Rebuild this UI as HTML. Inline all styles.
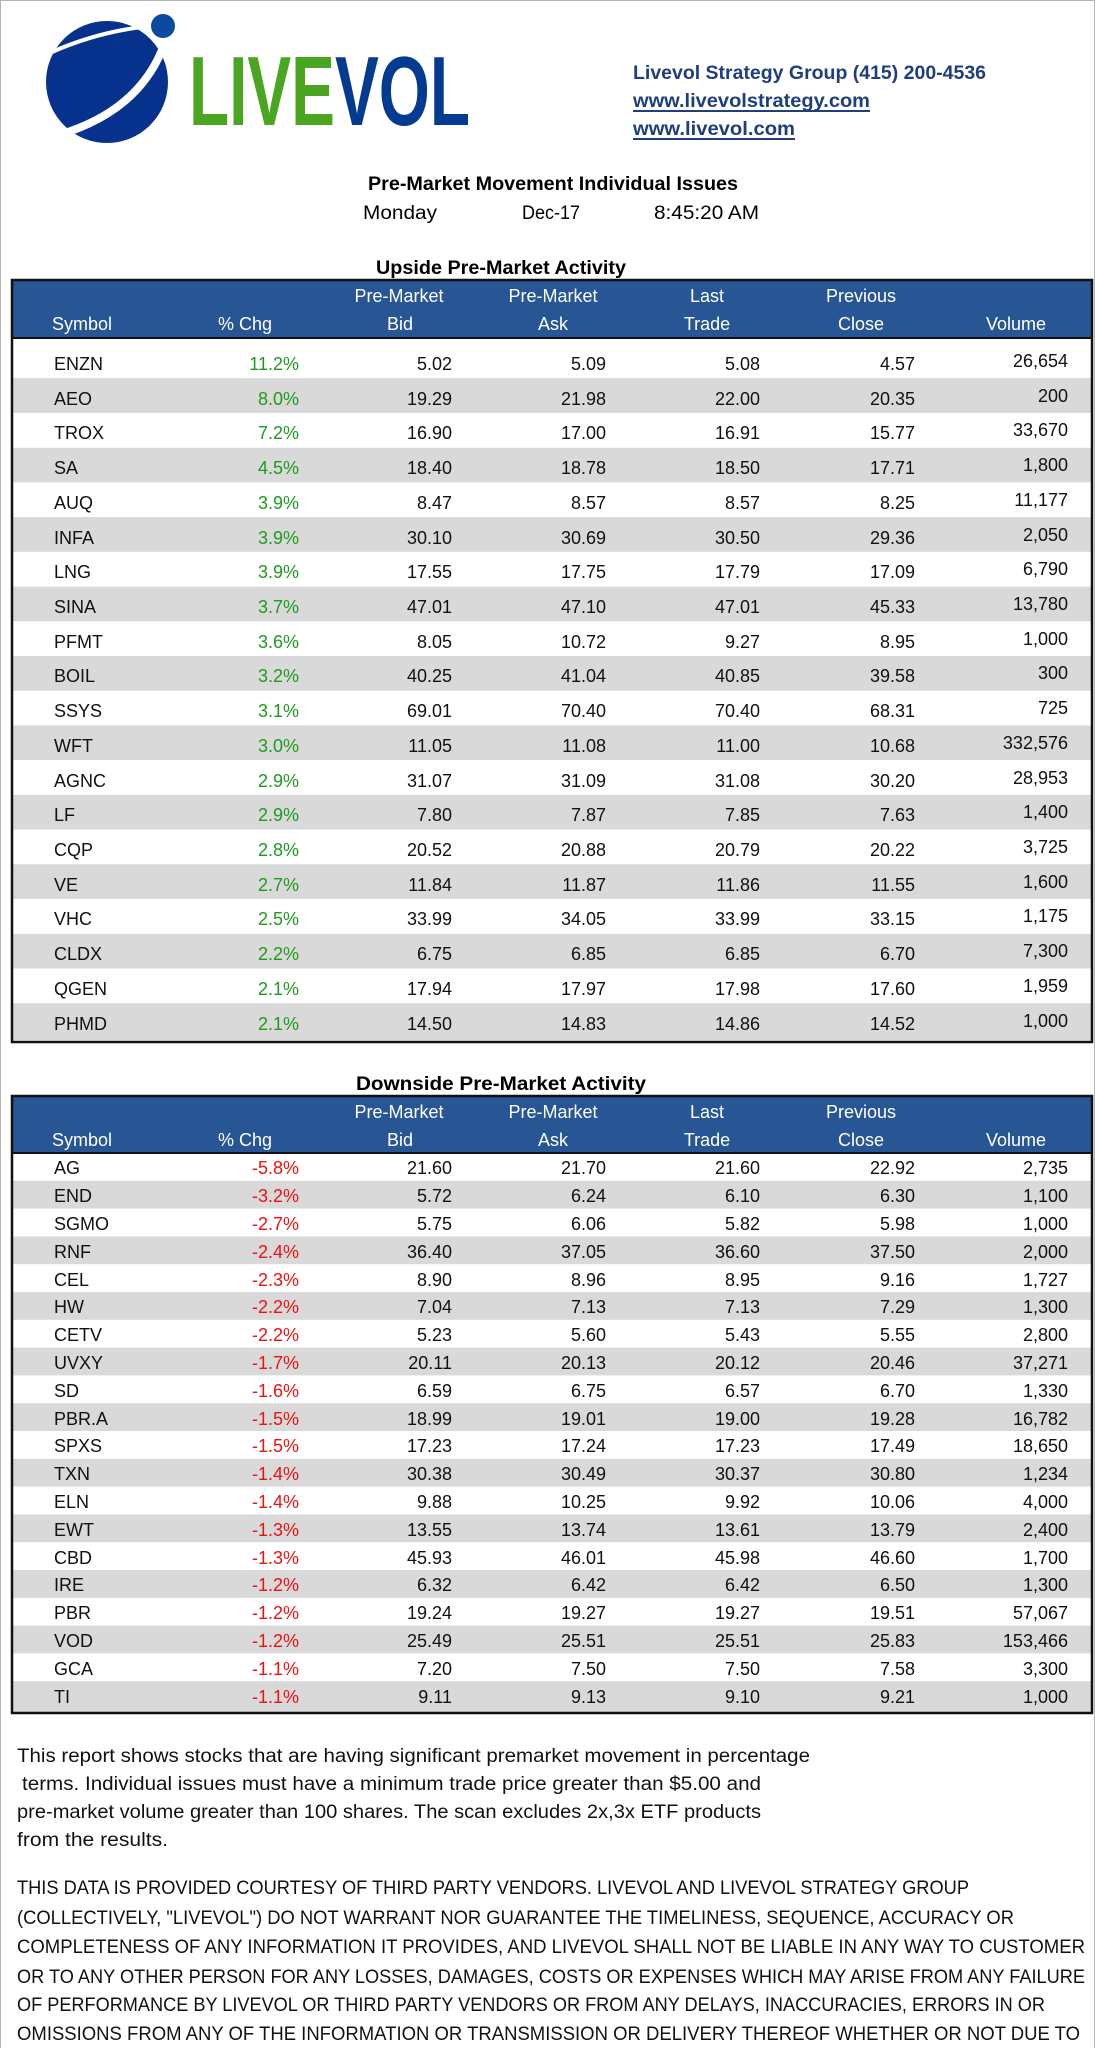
<!DOCTYPE html>
<html><head><meta charset="utf-8"><style>
html,body{margin:0;padding:0;background:#fff}
svg{display:block}
text{font-family:"Liberation Sans",sans-serif}
</style></head><body>
<svg width="1095" height="2048" viewBox="0 0 1095 2048" xmlns="http://www.w3.org/2000/svg">
<rect x="0.5" y="0.5" width="1094" height="2060" fill="#fff" stroke="#b4b4b4"/>
<!-- logo -->
<circle cx="107" cy="82" r="61" fill="#06328e"/>
<path d="M52,52 Q95,33 142,27" stroke="#fff" stroke-width="4" fill="none"/>
<path d="M162,50 Q138,108 68,132" stroke="#fff" stroke-width="8" fill="none"/>
<circle cx="163" cy="26" r="12" fill="#0a4aa0"/>
<text x="189" y="125" font-size="98" font-weight="bold" fill="#4aa520" textLength="146" lengthAdjust="spacingAndGlyphs">LIVE</text>
<text x="335" y="125" font-size="98" font-weight="bold" fill="#033b91" textLength="135" lengthAdjust="spacingAndGlyphs">VOL</text>
<!-- contact -->
<g fill="#1f3e7c" font-weight="bold" font-size="19">
<text x="633" y="79" textLength="353" lengthAdjust="spacingAndGlyphs">Livevol Strategy Group (415) 200-4536</text>
<text x="633" y="107" textLength="237" lengthAdjust="spacingAndGlyphs">www.livevolstrategy.com</text>
<text x="633" y="135" textLength="162" lengthAdjust="spacingAndGlyphs">www.livevol.com</text>
</g>
<rect x="633" y="110" width="237" height="2" fill="#1f3e7c"/>
<rect x="633" y="138" width="162" height="2" fill="#1f3e7c"/>
<!-- titles -->
<text x="368" y="190" font-size="19" font-weight="bold" textLength="370" lengthAdjust="spacingAndGlyphs">Pre-Market Movement Individual Issues</text>
<text x="363" y="219" font-size="19" textLength="74" lengthAdjust="spacingAndGlyphs">Monday</text>
<text x="522" y="219" font-size="19" textLength="58" lengthAdjust="spacingAndGlyphs">Dec-17</text>
<text x="654" y="219" font-size="19" textLength="105" lengthAdjust="spacingAndGlyphs">8:45:20 AM</text>
<text x="376" y="274" font-size="19" font-weight="bold" textLength="250" lengthAdjust="spacingAndGlyphs">Upside Pre-Market Activity</text>
<text x="356" y="1090" font-size="19" font-weight="bold" textLength="290" lengthAdjust="spacingAndGlyphs">Downside Pre-Market Activity</text>

<!-- UPSIDE TABLE -->
<rect x="13" y="281" width="1078" height="56" fill="#285694"/>
<g fill="#d9d9d9">
<rect x="13" y="378.2" width="1078" height="34.7"/>
<rect x="13" y="447.7" width="1078" height="34.7"/>
<rect x="13" y="517.1" width="1078" height="34.7"/>
<rect x="13" y="586.6" width="1078" height="34.7"/>
<rect x="13" y="656.0" width="1078" height="34.7"/>
<rect x="13" y="725.4" width="1078" height="34.7"/>
<rect x="13" y="794.9" width="1078" height="34.7"/>
<rect x="13" y="864.3" width="1078" height="34.7"/>
<rect x="13" y="933.8" width="1078" height="34.7"/>
<rect x="13" y="1003.2" width="1078" height="37"/>
</g>
<rect x="12" y="280" width="1080" height="762" fill="none" stroke="#111" stroke-width="2.5"/>
<line x1="12" y1="338" x2="1092" y2="338" stroke="#111" stroke-width="2"/>
<g fill="#fff" font-size="18">
<text x="399" y="302" text-anchor="middle">Pre-Market</text>
<text x="553" y="302" text-anchor="middle">Pre-Market</text>
<text x="707" y="302" text-anchor="middle">Last</text>
<text x="861" y="302" text-anchor="middle">Previous</text>
<text x="52" y="330">Symbol</text>
<text x="245" y="330" text-anchor="middle">% Chg</text>
<text x="400" y="330" text-anchor="middle">Bid</text>
<text x="553" y="330" text-anchor="middle">Ask</text>
<text x="707" y="330" text-anchor="middle">Trade</text>
<text x="861" y="330" text-anchor="middle">Close</text>
<text x="1016" y="330" text-anchor="middle">Volume</text>
</g>
<g font-size="18">
<g fill="#111">
<text x="54" y="370">ENZN</text><text x="54" y="405">AEO</text><text x="54" y="439">TROX</text><text x="54" y="474">SA</text><text x="54" y="509">AUQ</text>
<text x="54" y="544">INFA</text><text x="54" y="578">LNG</text><text x="54" y="613">SINA</text><text x="54" y="648">PFMT</text><text x="54" y="682">BOIL</text>
<text x="54" y="717">SSYS</text><text x="54" y="752">WFT</text><text x="54" y="787">AGNC</text><text x="54" y="821">LF</text><text x="54" y="856">CQP</text>
<text x="54" y="891">VE</text><text x="54" y="925">VHC</text><text x="54" y="960">CLDX</text><text x="54" y="995">QGEN</text><text x="54" y="1030">PHMD</text>
</g>
<g fill="#1e9a1e" text-anchor="end">
<text x="299" y="370">11.2%</text><text x="299" y="405">8.0%</text><text x="299" y="439">7.2%</text><text x="299" y="474">4.5%</text><text x="299" y="509">3.9%</text>
<text x="299" y="544">3.9%</text><text x="299" y="578">3.9%</text><text x="299" y="613">3.7%</text><text x="299" y="648">3.6%</text><text x="299" y="682">3.2%</text>
<text x="299" y="717">3.1%</text><text x="299" y="752">3.0%</text><text x="299" y="787">2.9%</text><text x="299" y="821">2.9%</text><text x="299" y="856">2.8%</text>
<text x="299" y="891">2.7%</text><text x="299" y="925">2.5%</text><text x="299" y="960">2.2%</text><text x="299" y="995">2.1%</text><text x="299" y="1030">2.1%</text>
</g>
<g fill="#111" text-anchor="end">
<text x="452" y="370">5.02</text><text x="452" y="405">19.29</text><text x="452" y="439">16.90</text><text x="452" y="474">18.40</text><text x="452" y="509">8.47</text>
<text x="452" y="544">30.10</text><text x="452" y="578">17.55</text><text x="452" y="613">47.01</text><text x="452" y="648">8.05</text><text x="452" y="682">40.25</text>
<text x="452" y="717">69.01</text><text x="452" y="752">11.05</text><text x="452" y="787">31.07</text><text x="452" y="821">7.80</text><text x="452" y="856">20.52</text>
<text x="452" y="891">11.84</text><text x="452" y="925">33.99</text><text x="452" y="960">6.75</text><text x="452" y="995">17.94</text><text x="452" y="1030">14.50</text>

<text x="606" y="370">5.09</text><text x="606" y="405">21.98</text><text x="606" y="439">17.00</text><text x="606" y="474">18.78</text><text x="606" y="509">8.57</text>
<text x="606" y="544">30.69</text><text x="606" y="578">17.75</text><text x="606" y="613">47.10</text><text x="606" y="648">10.72</text><text x="606" y="682">41.04</text>
<text x="606" y="717">70.40</text><text x="606" y="752">11.08</text><text x="606" y="787">31.09</text><text x="606" y="821">7.87</text><text x="606" y="856">20.88</text>
<text x="606" y="891">11.87</text><text x="606" y="925">34.05</text><text x="606" y="960">6.85</text><text x="606" y="995">17.97</text><text x="606" y="1030">14.83</text>

<text x="760" y="370">5.08</text><text x="760" y="405">22.00</text><text x="760" y="439">16.91</text><text x="760" y="474">18.50</text><text x="760" y="509">8.57</text>
<text x="760" y="544">30.50</text><text x="760" y="578">17.79</text><text x="760" y="613">47.01</text><text x="760" y="648">9.27</text><text x="760" y="682">40.85</text>
<text x="760" y="717">70.40</text><text x="760" y="752">11.00</text><text x="760" y="787">31.08</text><text x="760" y="821">7.85</text><text x="760" y="856">20.79</text>
<text x="760" y="891">11.86</text><text x="760" y="925">33.99</text><text x="760" y="960">6.85</text><text x="760" y="995">17.98</text><text x="760" y="1030">14.86</text>

<text x="915" y="370">4.57</text><text x="915" y="405">20.35</text><text x="915" y="439">15.77</text><text x="915" y="474">17.71</text><text x="915" y="509">8.25</text>
<text x="915" y="544">29.36</text><text x="915" y="578">17.09</text><text x="915" y="613">45.33</text><text x="915" y="648">8.95</text><text x="915" y="682">39.58</text>
<text x="915" y="717">68.31</text><text x="915" y="752">10.68</text><text x="915" y="787">30.20</text><text x="915" y="821">7.63</text><text x="915" y="856">20.22</text>
<text x="915" y="891">11.55</text><text x="915" y="925">33.15</text><text x="915" y="960">6.70</text><text x="915" y="995">17.60</text><text x="915" y="1030">14.52</text>

<text x="1068" y="367">26,654</text><text x="1068" y="402">200</text><text x="1068" y="436">33,670</text><text x="1068" y="471">1,800</text><text x="1068" y="506">11,177</text>
<text x="1068" y="541">2,050</text><text x="1068" y="575">6,790</text><text x="1068" y="610">13,780</text><text x="1068" y="645">1,000</text><text x="1068" y="679">300</text>
<text x="1068" y="714">725</text><text x="1068" y="749">332,576</text><text x="1068" y="784">28,953</text><text x="1068" y="818">1,400</text><text x="1068" y="853">3,725</text>
<text x="1068" y="888">1,600</text><text x="1068" y="922">1,175</text><text x="1068" y="957">7,300</text><text x="1068" y="992">1,959</text><text x="1068" y="1027">1,000</text>
</g>
</g>

<!-- DOWNSIDE TABLE -->
<rect x="13" y="1097" width="1078" height="56" fill="#285694"/>
<g fill="#d9d9d9">
<rect x="13" y="1180.8" width="1078" height="27.8"/>
<rect x="13" y="1236.4" width="1078" height="27.8"/>
<rect x="13" y="1292.0" width="1078" height="27.8"/>
<rect x="13" y="1347.6" width="1078" height="27.8"/>
<rect x="13" y="1403.2" width="1078" height="27.8"/>
<rect x="13" y="1458.8" width="1078" height="27.8"/>
<rect x="13" y="1514.4" width="1078" height="27.8"/>
<rect x="13" y="1570.0" width="1078" height="27.8"/>
<rect x="13" y="1625.6" width="1078" height="27.8"/>
<rect x="13" y="1681.2" width="1078" height="31"/>
</g>
<rect x="12" y="1096" width="1080" height="617" fill="none" stroke="#111" stroke-width="2.5"/>
<line x1="12" y1="1153" x2="1092" y2="1153" stroke="#111" stroke-width="2"/>
<g fill="#fff" font-size="18">
<text x="399" y="1118" text-anchor="middle">Pre-Market</text>
<text x="553" y="1118" text-anchor="middle">Pre-Market</text>
<text x="707" y="1118" text-anchor="middle">Last</text>
<text x="861" y="1118" text-anchor="middle">Previous</text>
<text x="52" y="1146">Symbol</text>
<text x="245" y="1146" text-anchor="middle">% Chg</text>
<text x="400" y="1146" text-anchor="middle">Bid</text>
<text x="553" y="1146" text-anchor="middle">Ask</text>
<text x="707" y="1146" text-anchor="middle">Trade</text>
<text x="861" y="1146" text-anchor="middle">Close</text>
<text x="1016" y="1146" text-anchor="middle">Volume</text>
</g>
<g font-size="18">
<g fill="#111">
<text x="54" y="1174">AG</text><text x="54" y="1202">END</text><text x="54" y="1230">SGMO</text><text x="54" y="1258">RNF</text><text x="54" y="1286">CEL</text>
<text x="54" y="1313">HW</text><text x="54" y="1341">CETV</text><text x="54" y="1369">UVXY</text><text x="54" y="1397">SD</text><text x="54" y="1425">PBR.A</text>
<text x="54" y="1452">SPXS</text><text x="54" y="1480">TXN</text><text x="54" y="1508">ELN</text><text x="54" y="1536">EWT</text><text x="54" y="1564">CBD</text>
<text x="54" y="1591">IRE</text><text x="54" y="1619">PBR</text><text x="54" y="1647">VOD</text><text x="54" y="1675">GCA</text><text x="54" y="1703">TI</text>
</g>
<g fill="#ee1111" text-anchor="end">
<text x="299" y="1174">-5.8%</text><text x="299" y="1202">-3.2%</text><text x="299" y="1230">-2.7%</text><text x="299" y="1258">-2.4%</text><text x="299" y="1286">-2.3%</text>
<text x="299" y="1313">-2.2%</text><text x="299" y="1341">-2.2%</text><text x="299" y="1369">-1.7%</text><text x="299" y="1397">-1.6%</text><text x="299" y="1425">-1.5%</text>
<text x="299" y="1452">-1.5%</text><text x="299" y="1480">-1.4%</text><text x="299" y="1508">-1.4%</text><text x="299" y="1536">-1.3%</text><text x="299" y="1564">-1.3%</text>
<text x="299" y="1591">-1.2%</text><text x="299" y="1619">-1.2%</text><text x="299" y="1647">-1.2%</text><text x="299" y="1675">-1.1%</text><text x="299" y="1703">-1.1%</text>
</g>
<g fill="#111" text-anchor="end">
<text x="452" y="1174">21.60</text><text x="452" y="1202">5.72</text><text x="452" y="1230">5.75</text><text x="452" y="1258">36.40</text><text x="452" y="1286">8.90</text>
<text x="452" y="1313">7.04</text><text x="452" y="1341">5.23</text><text x="452" y="1369">20.11</text><text x="452" y="1397">6.59</text><text x="452" y="1425">18.99</text>
<text x="452" y="1452">17.23</text><text x="452" y="1480">30.38</text><text x="452" y="1508">9.88</text><text x="452" y="1536">13.55</text><text x="452" y="1564">45.93</text>
<text x="452" y="1591">6.32</text><text x="452" y="1619">19.24</text><text x="452" y="1647">25.49</text><text x="452" y="1675">7.20</text><text x="452" y="1703">9.11</text>

<text x="606" y="1174">21.70</text><text x="606" y="1202">6.24</text><text x="606" y="1230">6.06</text><text x="606" y="1258">37.05</text><text x="606" y="1286">8.96</text>
<text x="606" y="1313">7.13</text><text x="606" y="1341">5.60</text><text x="606" y="1369">20.13</text><text x="606" y="1397">6.75</text><text x="606" y="1425">19.01</text>
<text x="606" y="1452">17.24</text><text x="606" y="1480">30.49</text><text x="606" y="1508">10.25</text><text x="606" y="1536">13.74</text><text x="606" y="1564">46.01</text>
<text x="606" y="1591">6.42</text><text x="606" y="1619">19.27</text><text x="606" y="1647">25.51</text><text x="606" y="1675">7.50</text><text x="606" y="1703">9.13</text>

<text x="760" y="1174">21.60</text><text x="760" y="1202">6.10</text><text x="760" y="1230">5.82</text><text x="760" y="1258">36.60</text><text x="760" y="1286">8.95</text>
<text x="760" y="1313">7.13</text><text x="760" y="1341">5.43</text><text x="760" y="1369">20.12</text><text x="760" y="1397">6.57</text><text x="760" y="1425">19.00</text>
<text x="760" y="1452">17.23</text><text x="760" y="1480">30.37</text><text x="760" y="1508">9.92</text><text x="760" y="1536">13.61</text><text x="760" y="1564">45.98</text>
<text x="760" y="1591">6.42</text><text x="760" y="1619">19.27</text><text x="760" y="1647">25.51</text><text x="760" y="1675">7.50</text><text x="760" y="1703">9.10</text>

<text x="915" y="1174">22.92</text><text x="915" y="1202">6.30</text><text x="915" y="1230">5.98</text><text x="915" y="1258">37.50</text><text x="915" y="1286">9.16</text>
<text x="915" y="1313">7.29</text><text x="915" y="1341">5.55</text><text x="915" y="1369">20.46</text><text x="915" y="1397">6.70</text><text x="915" y="1425">19.28</text>
<text x="915" y="1452">17.49</text><text x="915" y="1480">30.80</text><text x="915" y="1508">10.06</text><text x="915" y="1536">13.79</text><text x="915" y="1564">46.60</text>
<text x="915" y="1591">6.50</text><text x="915" y="1619">19.51</text><text x="915" y="1647">25.83</text><text x="915" y="1675">7.58</text><text x="915" y="1703">9.21</text>

<text x="1068" y="1174">2,735</text><text x="1068" y="1202">1,100</text><text x="1068" y="1230">1,000</text><text x="1068" y="1258">2,000</text><text x="1068" y="1286">1,727</text>
<text x="1068" y="1313">1,300</text><text x="1068" y="1341">2,800</text><text x="1068" y="1369">37,271</text><text x="1068" y="1397">1,330</text><text x="1068" y="1425">16,782</text>
<text x="1068" y="1452">18,650</text><text x="1068" y="1480">1,234</text><text x="1068" y="1508">4,000</text><text x="1068" y="1536">2,400</text><text x="1068" y="1564">1,700</text>
<text x="1068" y="1591">1,300</text><text x="1068" y="1619">57,067</text><text x="1068" y="1647">153,466</text><text x="1068" y="1675">3,300</text><text x="1068" y="1703">1,000</text>
</g>
</g>

<!-- footer -->
<g font-size="19" fill="#111">
<text x="17" y="1762" textLength="793" lengthAdjust="spacingAndGlyphs">This report shows stocks that are having significant premarket movement in percentage</text>
<text x="22" y="1790" textLength="739" lengthAdjust="spacingAndGlyphs">terms.  Individual issues must have a minimum trade price greater than $5.00 and</text>
<text x="17" y="1818" textLength="744" lengthAdjust="spacingAndGlyphs">pre-market volume greater than 100 shares. The scan excludes 2x,3x ETF products</text>
<text x="17" y="1846" textLength="151" lengthAdjust="spacingAndGlyphs">from the results.</text>
<text x="17" y="1894" textLength="952" lengthAdjust="spacingAndGlyphs">THIS DATA IS PROVIDED COURTESY OF THIRD PARTY VENDORS. LIVEVOL AND LIVEVOL STRATEGY GROUP</text>
<text x="17" y="1924" textLength="997" lengthAdjust="spacingAndGlyphs">(COLLECTIVELY, "LIVEVOL") DO NOT WARRANT NOR GUARANTEE THE TIMELINESS, SEQUENCE, ACCURACY OR</text>
<text x="17" y="1953" textLength="1068" lengthAdjust="spacingAndGlyphs">COMPLETENESS OF ANY INFORMATION IT PROVIDES, AND LIVEVOL SHALL NOT BE LIABLE IN ANY WAY TO CUSTOMER</text>
<text x="17" y="1983" textLength="1068" lengthAdjust="spacingAndGlyphs">OR TO ANY OTHER PERSON FOR ANY LOSSES, DAMAGES, COSTS OR EXPENSES WHICH MAY ARISE FROM ANY FAILURE</text>
<text x="17" y="2011" textLength="1028" lengthAdjust="spacingAndGlyphs">OF PERFORMANCE BY LIVEVOL OR THIRD PARTY VENDORS OR FROM ANY DELAYS, INACCURACIES, ERRORS IN OR</text>
<text x="17" y="2040" textLength="1063" lengthAdjust="spacingAndGlyphs">OMISSIONS FROM ANY OF THE INFORMATION OR TRANSMISSION OR DELIVERY THEREOF WHETHER OR NOT DUE TO</text>
</g>
</svg>
</body></html>
